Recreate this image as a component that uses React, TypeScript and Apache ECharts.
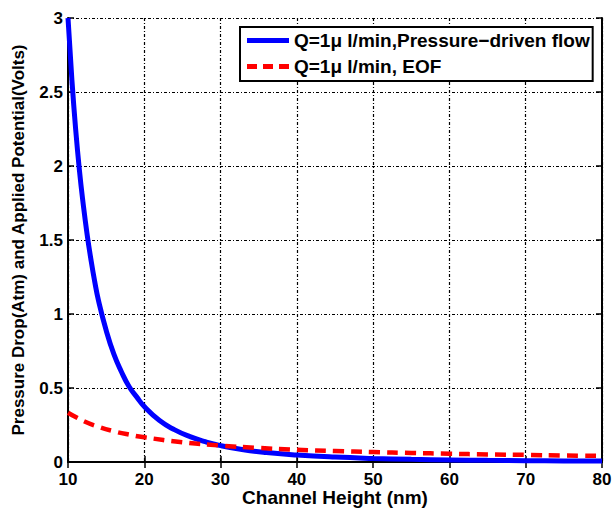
import React, { useEffect, useRef } from "react";
import * as echarts from "echarts";

const heightsPressure = [10, 10.5, 11, 11.5, 12, 12.5, 13, 13.5, 14, 15, 16, 17, 18, 19, 20, 22, 24, 26, 28, 30, 33, 36, 40, 45, 50, 55, 60, 65, 70, 75, 80];
const pressureValues = [3.0, 2.59, 2.25, 1.97, 1.74, 1.54, 1.37, 1.22, 1.09, 0.89, 0.73, 0.61, 0.51, 0.44, 0.375, 0.28, 0.217, 0.171, 0.137, 0.111, 0.083, 0.064, 0.047, 0.033, 0.024, 0.018, 0.014, 0.011, 0.009, 0.007, 0.006];
const heightsEof = [10, 12, 14, 16, 18, 20, 25, 30, 35, 40, 45, 50, 55, 60, 65, 70, 75, 80];
const eofValues = [0.333, 0.278, 0.238, 0.208, 0.185, 0.167, 0.133, 0.111, 0.095, 0.083, 0.074, 0.067, 0.061, 0.056, 0.051, 0.048, 0.044, 0.042];

const seriesNames = ["Q=1\u03bc l/min,Pressure\u2212driven flow", "Q=1\u03bc l/min, EOF"];
const xTitle = "Channel Height (nm)";
const yTitle = "Pressure Drop(Atm) and Applied Potential(Volts)";

const FONT = "Liberation Sans, Arial, sans-serif";

export default function App() {
  const ref = useRef<HTMLDivElement>(null);
  useEffect(() => {
    if (!ref.current) return;
    const chart = echarts.init(ref.current, undefined, { renderer: "svg" });
    const grid = { left: 68, top: 18, right: 11, bottom: 46, containLabel: false, outerBoundsMode: "none" };
    const splitLine = { show: true, lineStyle: { color: "#000", width: 1.2, type: [3, 2, 1, 2] as any } };
    const axisLine = { show: true, lineStyle: { color: "#000", width: 2 } };
    const axisTick = { show: true, inside: true, length: 6, lineStyle: { color: "#000", width: 1.5 } };
    const labelStyle = { fontFamily: FONT, fontWeight: "bold", fontSize: 17, color: "#000", lineHeight: 14 };
    chart.setOption({
      animation: false,
      backgroundColor: "#fff",
      grid,
      legend: {
        orient: "vertical",
        left: 240,
        top: 27,
        padding: [4, 3, 5, 7],
        itemGap: 7,
        itemWidth: 42,
        itemHeight: 5,
        backgroundColor: "#fff",
        borderColor: "#000",
        borderWidth: 2,
        borderRadius: 0,
        textStyle: { fontFamily: FONT, fontWeight: "bold", fontSize: 19, color: "#000" },
        data: [
          { name: seriesNames[0], icon: "path://M0,0h42v5h-42z", itemStyle: { color: "#0000ff" } },
          { name: seriesNames[1], icon: "path://M0,0h10v5h-10z M16,0h10v5h-10z M32,0h10v5h-10z", itemStyle: { color: "#ff0000" } },
        ],
      },
      xAxis: [
        {
          type: "value",
          min: 10,
          max: 80,
          interval: 10,
          name: xTitle,
          nameLocation: "middle",
          nameGap: 26,
          nameMoveOverlap: false,
          nameTextStyle: { fontFamily: FONT, fontWeight: "bold", fontSize: 19, color: "#000", lineHeight: 19 },
          axisLine,
          axisTick,
          axisLabel: { ...labelStyle, margin: 10 },
          splitLine,
        },
        {
          type: "value",
          position: "top",
          min: 10,
          max: 80,
          interval: 10,
          axisLine,
          axisTick,
          axisLabel: { show: false },
          splitLine: { show: false },
        },
      ],
      yAxis: [
        {
          type: "value",
          min: 0,
          max: 3,
          interval: 0.5,
          name: yTitle,
          nameLocation: "middle",
          nameGap: 41,
          nameMoveOverlap: false,
          nameTextStyle: { fontFamily: FONT, fontWeight: "bold", fontSize: 17, color: "#000" },
          axisLine,
          axisTick,
          axisLabel: { ...labelStyle, margin: 5 },
          splitLine,
        },
        {
          type: "value",
          position: "right",
          min: 0,
          max: 3,
          interval: 0.5,
          axisLine,
          axisTick,
          axisLabel: { show: false },
          splitLine: { show: false },
        },
      ],
      series: [
        {
          name: seriesNames[0],
          type: "line",
          smooth: true,
          symbol: "none",
          data: heightsPressure.map((h, i) => [h, pressureValues[i]]),
          lineStyle: { color: "#0000ff", width: 5 },
          itemStyle: { color: "#0000ff" },
          z: 3,
        },
        {
          name: seriesNames[1],
          type: "line",
          smooth: true,
          symbol: "none",
          data: heightsEof.map((h, i) => [h, eofValues[i]]),
          lineStyle: { color: "#ff0000", width: 4.5, type: [11, 7] as any },
          itemStyle: { color: "#ff0000" },
          z: 4,
        },
      ],
    });
    return () => chart.dispose();
  }, []);
  return <div ref={ref} style={{ width: 613, height: 508, position: "absolute", left: 0, top: 0 }} />;
}
